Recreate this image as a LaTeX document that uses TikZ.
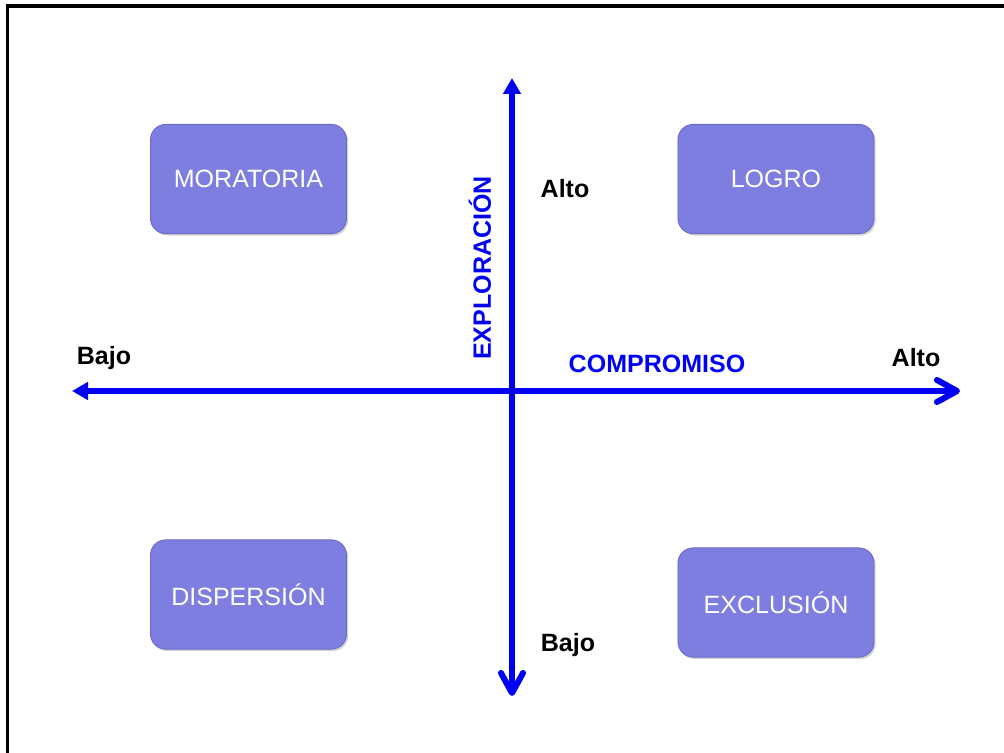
\documentclass[tikz,border=0pt]{standalone}
\usepackage{fontspec}
\setmainfont{Liberation Sans}
\usepackage{tikz}
\usetikzlibrary{positioning}
\usetikzlibrary{arrows.meta}
\usetikzlibrary{shadows}

\definecolor{cajafondo}{RGB}{126,126,224}
\definecolor{cajaborde}{RGB}{104,104,200}
\definecolor{ejeazul}{RGB}{0,0,245}

\tikzset{
    estado/.style={draw=cajaborde, line width=0.6pt, fill=cajafondo, rounded corners=0.38cm,
        minimum width=4.9cm, minimum height=2.73cm, inner sep=0pt,
        text=white, font=\fontsize{17.8}{21}\selectfont,
        drop shadow={shadow xshift=0.04cm, shadow yshift=-0.05cm, opacity=0.35}},
    nivel/.style={font=\fontsize{17.8}{21}\selectfont\bfseries, inner sep=0pt},
    eje/.style={draw=ejeazul, line width=4.3pt}
}

\begin{document}
\begin{tikzpicture}
[   x=0.025cm,
    y=-0.025cm
]
\useasboundingbox (0,0) rectangle (1004,753);

% marco
\draw[line width=2.2pt] (7.5,760) -- (7.5,6) -- (1010,6);

% ejes
\coordinate (ejeIzq) at (72,391);
\coordinate (ejeDer) at (960,391);
\coordinate (ejeArr) at (512,78);
\coordinate (ejeAba) at (512,696);

\draw[eje, {Triangle[length=0.4cm, width=0.43cm]}-{Straight Barb[length=0.5cm, width=0.55cm, round]}]
    (ejeIzq) -- (ejeDer);
\draw[eje, {Triangle[length=0.4cm, width=0.43cm]}-{Straight Barb[length=0.5cm, width=0.55cm, round]}]
    (ejeArr) -- (ejeAba);

% estados
\node[estado] (moratoria)  at (248.5,179) {MORATORIA};
\node[estado] (logro)      at (776,179)   {LOGRO};
\node[estado] (dispersion) at (248.5,594.5) {DISPERSIÓN};
\node[estado] (exclusion)  at (776,602.5) {EXCLUSIÓN};

% etiquetas
\node[nivel] (altoV) at (565,189) {Alto};
\node[nivel] (bajoV) at (568,645) {Bajo};
\node[nivel] (bajoH) at (104,358) {Bajo};
\node[nivel] (altoH) at (916,358) {Alto};
\node[nivel, text=ejeazul] (compromiso) at (657,364) {COMPROMISO};
\node[nivel, text=ejeazul, rotate=90] (exploracion) at (480,268) {EXPLORACIÓN};
\end{tikzpicture}
\end{document}
